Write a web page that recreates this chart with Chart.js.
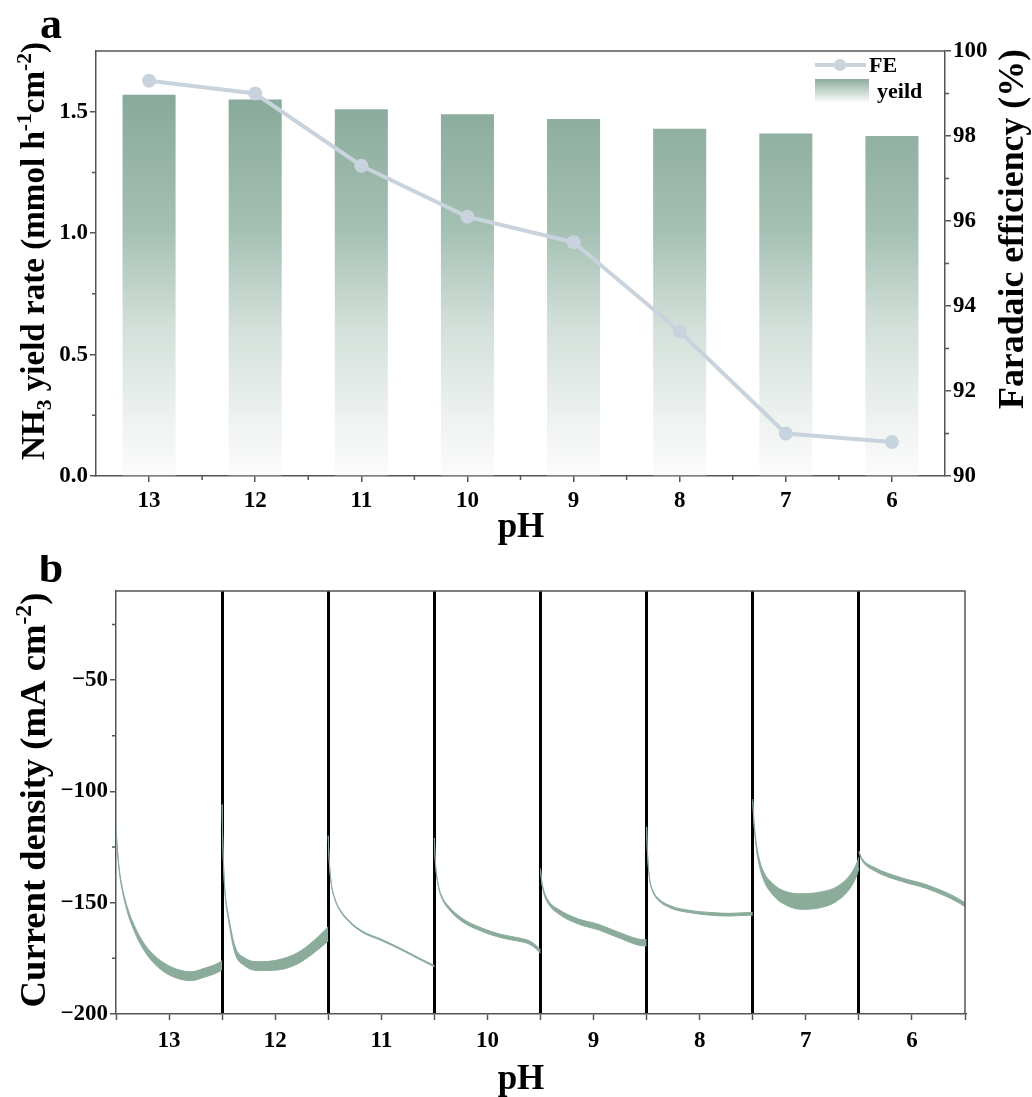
<!DOCTYPE html>
<html><head><meta charset="utf-8">
<script src="https://cdn.jsdelivr.net/npm/chart.js@4.4.1/dist/chart.umd.min.js"></script>
<style>
html,body{margin:0;padding:0;background:#fff;}
#wrap{position:relative;width:1032px;height:1097px;overflow:hidden;}
#c1{position:absolute;left:0;top:0;}
#c2{position:absolute;left:0;top:555px;}
</style></head><body><div id="wrap"><canvas id="c1" width="1032" height="555"></canvas><canvas id="c2" width="1032" height="542"></canvas></div>
<script>
// ---------- data ----------
const phLabels = ['13','12','11','10','9','8','7','6'];
const yieldRate = [1.57, 1.55, 1.51, 1.49, 1.47, 1.43, 1.41, 1.40];
const faradaicEff = [99.3, 99.0, 97.3, 96.1, 95.5, 93.4, 91.0, 90.8];
const yieldTicks = [0.0, 0.5, 1.0, 1.5];
const feTicks = [90, 92, 94, 96, 98, 100];
const currentTicks = [-200, -150, -100, -50];

// chronoamperometry curves per pH window: fraction of window (t), mean current density (j),
// and width of the noise band (n), all in mA cm-2
const t13 = [0,0.01,0.03,0.06,0.10,0.15,0.24,0.33,0.45,0.58,0.71,0.83,0.97,1.0];
const j13 = [-116,-124,-135,-144,-152,-159,-168,-174,-179,-182,-183,-181.5,-179,-178];
const n13 = [0.5,0.5,1,1.5,2,2.5,3,3.5,4,4,4,4,4,4];
const t12 = [0,0.005,0.015,0.03,0.057,0.12,0.21,0.34,0.52,0.71,0.86,1.0];
const j12 = [-106,-120,-135,-147,-156,-171,-176.5,-178.5,-178,-175,-170,-164];
const n12 = [0.5,0.5,0.8,1.2,2,3,3.5,4,4.5,5,5.5,6.5];
const t11 = [0,0.005,0.015,0.03,0.06,0.10,0.20,0.32,0.51,0.69,0.88,1.0];
const j11 = [-120,-127,-135,-142,-148,-152.5,-158.5,-163,-166.9,-171,-175.7,-178.5];
const n11 = [0.3,0.3,0.3,0.4,0.5,0.6,0.6,0.6,0.6,0.6,0.6,0.6];
const t10 = [0,0.005,0.015,0.04,0.08,0.13,0.26,0.44,0.63,0.82,0.90,0.96,1.0];
const j10 = [-121,-128,-135,-143,-148.5,-152,-157.7,-162,-165,-166.8,-168,-170,-172];
const n10 = [0.3,0.3,0.5,0.8,1,1.2,1.5,1.5,1.5,1.5,1.5,1.5,1.5];
const t9 = [0,0.01,0.03,0.07,0.17,0.36,0.55,0.73,0.98,1.0];
const j9 = [-135,-140,-145,-149.5,-154,-158.5,-161,-164.4,-168,-168];
const n9 = [0.8,1,1.3,1.5,2,2.3,2.5,2.5,2.8,2.8];
const t8 = [0,0.005,0.015,0.03,0.06,0.10,0.23,0.41,0.60,0.78,0.97,1.0];
const j8 = [-116,-124,-133,-140,-145,-148,-152,-154,-155,-155.4,-155,-155];
const n8 = [0.3,0.3,0.4,0.5,0.7,0.8,1,1,1.2,1.2,1.2,1.2];
const t7 = [0,0.01,0.025,0.045,0.09,0.19,0.31,0.47,0.65,0.78,0.91,0.98,1.0];
const j7 = [-104,-113,-121,-128,-136.5,-144,-148,-149.5,-148.6,-146.4,-141,-135,-132];
const n7 = [1,1.5,2,2.5,3.5,5,6,7,7,6.5,6,5.5,5];
const t6 = [0,0.01,0.03,0.15,0.40,0.65,0.99,1.0];
const j6 = [-127,-128.4,-130.6,-135,-139.6,-143,-150.6,-151];
const n6 = [0.5,0.8,1,1.5,1.6,1.7,1.8,1.8];
const segTimes = [t13,t12,t11,t10,t9,t8,t7,t6];
const segCurrents = [j13,j12,j11,j10,j9,j8,j7,j6];
const segNoise = [n13,n12,n11,n10,n9,n8,n7,n6];

// ---------- styles ----------
const FF = "'Liberation Serif','Times New Roman',serif";
const AXIS = '#555555';
const LINE_C = '#c9d3dd';
const CURVE_C = '#8bab9b';
const tickFont = {family: FF, size: 23, weight: 'bold'};

function barGradient(c){
  const ch = c.chart, a = ch.chartArea;
  if (!a) return CURVE_C;
  const g = ch.ctx.createLinearGradient(0, a.top + 45, 0, a.bottom);
  g.addColorStop(0, 'rgb(136,170,154)');
  g.addColorStop(0.35, 'rgb(164,192,179)');
  g.addColorStop(0.6, 'rgb(210,223,217)');
  g.addColorStop(0.85, 'rgb(238,242,240)');
  g.addColorStop(1, 'rgb(251,252,251)');
  return g;
}

function drawRich(ctx, parts, cx, cy, targetLen, rot){
  ctx.save();
  ctx.translate(cx, cy);
  if (rot) ctx.rotate(rot);
  const base = 30;
  let tot = 0;
  parts.forEach(p => { ctx.font = `bold ${p[1] ? base*0.65 : base}px ${FF}`; tot += ctx.measureText(p[0]).width; });
  const size = base * targetLen / tot;
  let w = 0;
  parts.forEach(p => { ctx.font = `bold ${p[1] ? size*0.65 : size}px ${FF}`; p.w = ctx.measureText(p[0]).width; w += p.w; });
  let x = -w/2;
  ctx.fillStyle = '#000';
  ctx.textBaseline = 'alphabetic';
  ctx.textAlign = 'left';
  parts.forEach(p => {
    ctx.font = `bold ${p[1] ? size*0.65 : size}px ${FF}`;
    const dy = p[1] === 1 ? -size*0.38 : (p[1] === -1 ? size*0.2 : 0);
    ctx.fillText(p[0], x, size*0.33 + dy);
    x += p.w;
  });
  ctx.restore();
}

function text(ctx, s, x, y, size, align){
  ctx.save();
  ctx.font = `bold ${size}px ${FF}`;
  ctx.fillStyle = '#000';
  ctx.textAlign = align || 'center';
  ctx.textBaseline = 'middle';
  ctx.fillText(s, x, y);
  ctx.restore();
}

const decorTop = {
  id: 'decorTop',
  afterDraw(chart){
    const {ctx, chartArea: a, scales: {x, y, y1}} = chart;
    ctx.save();
    ctx.strokeStyle = AXIS; ctx.lineWidth = 1.5;
    ctx.beginPath(); ctx.moveTo(a.left, a.top); ctx.lineTo(a.right, a.top); ctx.stroke();
    ctx.beginPath();
    for (let i = 1; i < phLabels.length; i++){
      const px = (x.getPixelForValue(i-1) + x.getPixelForValue(i)) / 2;
      ctx.moveTo(px, a.bottom); ctx.lineTo(px, a.bottom + 4);
    }
    for (let i = 1; i < yieldTicks.length; i++){
      const py = y.getPixelForValue((yieldTicks[i-1] + yieldTicks[i]) / 2);
      ctx.moveTo(a.left, py); ctx.lineTo(a.left - 4, py);
    }
    for (let i = 1; i < feTicks.length; i++){
      const py = y1.getPixelForValue((feTicks[i-1] + feTicks[i]) / 2);
      ctx.moveTo(a.right, py); ctx.lineTo(a.right + 4, py);
    }
    ctx.stroke();
    // legend
    const ds = chart.data.datasets;
    ctx.strokeStyle = LINE_C; ctx.lineWidth = 4;
    ctx.beginPath(); ctx.moveTo(815, 65); ctx.lineTo(866, 65); ctx.stroke();
    ctx.fillStyle = LINE_C; ctx.beginPath(); ctx.arc(840, 65, 6, 0, Math.PI*2); ctx.fill();
    text(ctx, ds[0].label, 869, 66, 22, 'left');
    const g = ctx.createLinearGradient(0, 79, 0, 103);
    g.addColorStop(0, 'rgb(140,172,157)'); g.addColorStop(1, '#ffffff');
    ctx.fillStyle = g; ctx.fillRect(815, 79, 54, 24);
    text(ctx, ds[1].label, 877, 92, 22, 'left');
    ctx.restore();
    // titles
    drawRich(ctx, [['NH',0],['3',-1],[' yield rate (mmol h',0],['-1',1],['cm',0],['-2',1],[')',0]], 33, 251, 418, -Math.PI/2);
    drawRich(ctx, [['Faradaic efficiency (%)',0]], 1011, 229, 360, -Math.PI/2);
    text(ctx, 'pH', 521, 528, 35);
    text(ctx, 'a', 51, 27, 44);
  }
};

new Chart(document.getElementById('c1'), {
  type: 'bar',
  data: {
    labels: phLabels,
    datasets: [
      {type: 'line', label: 'FE', data: faradaicEff, yAxisID: 'y1', borderColor: LINE_C, backgroundColor: LINE_C,
       borderWidth: 4, pointRadius: 7, pointHoverRadius: 7, pointBorderWidth: 0, tension: 0, order: 0},
      {type: 'bar', label: 'yeild', data: yieldRate, yAxisID: 'y', backgroundColor: barGradient,
       barPercentage: 0.5, categoryPercentage: 1, order: 1}
    ]
  },
  options: {
    responsive: false, animation: false,
    layout: {padding: {top: 51, left: 0, right: 0, bottom: 0}},
    plugins: {legend: {display: false}, tooltip: {enabled: false}},
    scales: {
      x: {offset: true,
          grid: {display: true, offset: false, drawOnChartArea: false, tickLength: 6, color: AXIS, lineWidth: 1.5},
          border: {color: AXIS, width: 1.5},
          ticks: {font: tickFont, color: '#000', padding: 5},
          afterFit(s){ s.height = 79; }},
      y: {position: 'left', min: 0, max: 1.75,
          grid: {drawOnChartArea: false, tickLength: 6, color: AXIS, lineWidth: 1.5},
          border: {color: AXIS, width: 1.5},
          ticks: {stepSize: 0.5, includeBounds: false, font: tickFont, color: '#000', padding: 2,
                  callback: v => yieldTicks.includes(v) ? v.toFixed(1) : ''},
          afterFit(s){ s.width = 96; }},
      y1: {position: 'right', min: 90, max: 100,
          grid: {drawOnChartArea: false, tickLength: 6, color: AXIS, lineWidth: 1.5},
          border: {color: AXIS, width: 1.5},
          ticks: {stepSize: 2, font: tickFont, color: '#000', padding: 2},
          afterFit(s){ s.width = 87; }}
    }
  },
  plugins: [decorTop]
});

// ---------- bottom panel: each window drawn as a filled noise band ----------
const curveSets = [];
segTimes.forEach((ts, k) => {
  const common = {borderColor: CURVE_C, backgroundColor: CURVE_C, borderWidth: 1, pointRadius: 0,
                  cubicInterpolationMode: 'monotone'};
  curveSets.push(Object.assign({label: 'pH ' + phLabels[k] + ' upper', fill: false,
    data: ts.map((t, i) => ({x: k + t, y: segCurrents[k][i] + segNoise[k][i] / 2}))}, common));
  curveSets.push(Object.assign({label: 'pH ' + phLabels[k] + ' lower', fill: '-1',
    data: ts.map((t, i) => ({x: k + t, y: segCurrents[k][i] - segNoise[k][i] / 2}))}, common));
});

const decorBottom = {
  id: 'decorBottom',
  afterDraw(chart){
    const {ctx, chartArea: a, scales: {y}} = chart;
    ctx.save();
    ctx.strokeStyle = AXIS; ctx.lineWidth = 1.5;
    ctx.beginPath();
    ctx.moveTo(a.left, a.top); ctx.lineTo(a.right, a.top); ctx.lineTo(a.right, a.bottom);
    ctx.stroke();
    ctx.beginPath();
    for (let i = 0; i < currentTicks.length; i++){
      const py = y.getPixelForValue(currentTicks[i] + 25);
      ctx.moveTo(a.left, py); ctx.lineTo(a.left - 4, py);
    }
    ctx.stroke();
    ctx.restore();
    drawRich(ctx, [['Current density (mA cm',0],['-2',1],[')',0]], 33, 245, 415, -Math.PI/2);
    text(ctx, 'pH', 521, 525, 35);
    text(ctx, 'b', 51, 16, 44);
  }
};

new Chart(document.getElementById('c2'), {
  type: 'line',
  data: {datasets: curveSets},
  options: {
    responsive: false, animation: false,
    layout: {padding: {top: 36, left: 0, right: 67, bottom: 0}},
    plugins: {legend: {display: false}, tooltip: {enabled: false}, filler: {propagate: false}},
    scales: {
      x: {type: 'linear', min: 0, max: phLabels.length,
          grid: {drawOnChartArea: true, tickLength: 6, lineWidth: 3, tickWidth: 1.5, tickColor: AXIS,
                 color: c => (c.tick && c.tick.value > 0 && c.tick.value < phLabels.length && Number.isInteger(c.tick.value)) ? '#000' : 'rgba(0,0,0,0)'},
          border: {color: AXIS, width: 1.5},
          ticks: {stepSize: 0.5, autoSkip: false, maxRotation: 0, font: tickFont, color: '#000', padding: 7,
                  callback: v => Number.isInteger(v) ? '' : phLabels[Math.floor(v)]},
          afterFit(s){ s.height = 83; }},
      y: {min: -200, max: -10,
          grid: {drawOnChartArea: false, tickLength: 6, color: AXIS, lineWidth: 1.5},
          border: {color: AXIS, width: 1.5},
          ticks: {stepSize: 50, includeBounds: false, font: tickFont, color: '#000', padding: 2,
                  callback: v => '\u2212' + Math.abs(v)},
          afterFit(s){ s.width = 116; }}
    }
  },
  plugins: [decorBottom]
});
</script></body></html>
